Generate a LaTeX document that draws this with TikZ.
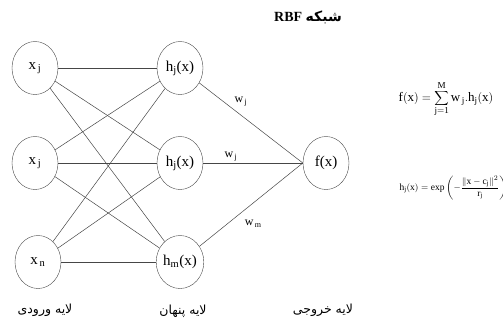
\documentclass[tikz,border=0pt]{standalone}
\usepackage{fontspec}
\setmainfont{Liberation Serif}
\newfontfamily\farsi[Script=Arabic]{DejaVu Sans}
\TeXXeTstate=1
\usetikzlibrary{shapes.geometric,positioning}
\definecolor{ink}{RGB}{70,70,70}
\tikzset{
  neuron/.style={ellipse,draw=ink,thin,minimum width=46pt,minimum height=53pt,
    inner sep=0pt,font=\fontsize{15}{17}\selectfont},
  link/.style={draw=ink,line width=0.5pt},
  wlab/.style={font=\fontsize{12}{14}\selectfont,inner sep=2pt},
  layername/.style={font=\farsi\fontsize{12.5}{14}\selectfont},
}

\begin{document}
\begin{tikzpicture}[x=1pt,y=-1pt]
  \useasboundingbox (0,0) rectangle (503,322);
  % layers
  \foreach \i/\t/\x/\y in {1/{x\textsubscript{\,j}}/35/68,2/{x\textsubscript{\,j}}/35/163,3/{x\textsubscript{\,n}}/38/262}
    \node[neuron] (in\i) at (\x,\y) {\t};
  \foreach \i/\t/\y in {1/{h\textsubscript{j}(x)}/68,2/{h\textsubscript{j}(x)}/163,3/{h\textsubscript{m}(x)}/262}
    \node[neuron] (hid\i) at (180,\y) {\t};
  \node[neuron] (out) at (326,163) {f(x)};
  % connections
  \foreach \a in {1,2,3}
    \foreach \b in {1,2,3} \draw[link] (in\a) -- (hid\b);
  \draw[link] (hid1) -- node[wlab,pos=0.32,above right] {w\textsubscript{\,j}} (out.west);
  \draw[link] (hid2) -- node[wlab,pos=0.28,above] {w\textsubscript{\,j}} (out.west);
  \draw[link] (hid3) -- node[wlab,pos=0.52,below=15pt] {w\textsubscript{\,m}} (out.west);
  % texts
  \node[font=\bfseries\fontsize{14}{16}\selectfont] (title) at (308,17)
    {\beginR{\farsi شبکه} \beginL RBF\endL\endR};
  \node[font=\fontsize{13}{15}\selectfont] (fsum) at (446,99)
    {$\mathrm{f(x)}=\displaystyle\sum_{\mathrm{j=1}}^{\mathrm{M}}\mathrm{w_{\,j}.h_j(x)}$};
  \node[font=\fontsize{9.5}{11}\selectfont,anchor=west] (rbf) at (396,188)
    {$\displaystyle\mathrm{h_j(x)}=\mathrm{exp}\left(-\frac{\|\mathrm{x}-\mathrm{c_j}\|^2}{\mathrm{r_j}}\right)$};
  \node[layername] (lin) at (45,310) {\beginR لایه ورودی\endR};
  \node[layername] (lhid) at (183,311) {\beginR لایه پنهان\endR};
  \node[layername] (lout) at (323,310) {\beginR لایه خروجی\endR};
\end{tikzpicture}
\end{document}
